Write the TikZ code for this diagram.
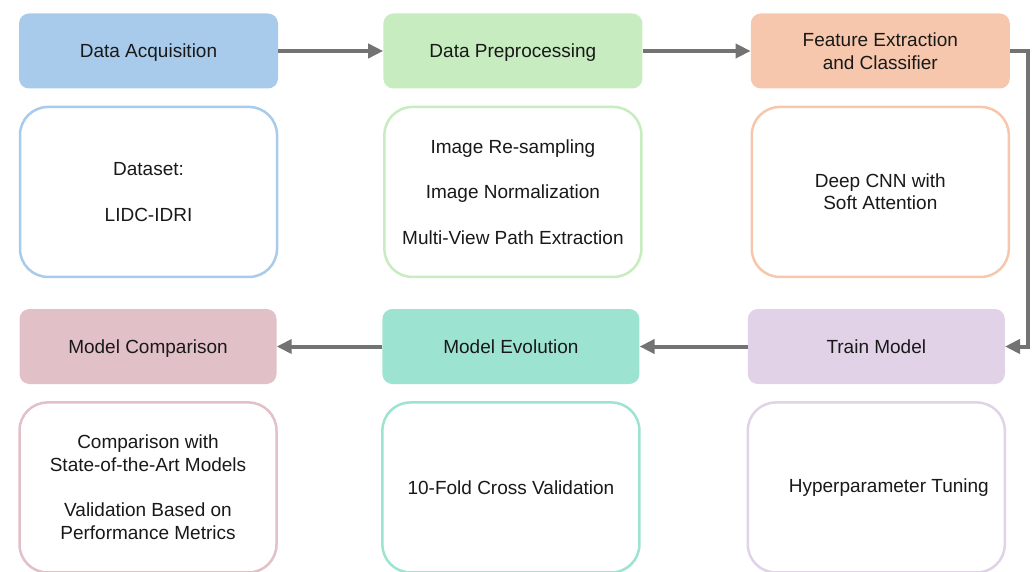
\documentclass[tikz,border=0pt]{standalone}
\usepackage{fontspec}
\setmainfont{Liberation Sans}
\usepackage{xcolor}
\usepackage{tikz}
\usetikzlibrary{positioning,arrows.meta}
\definecolor{acqblue}{HTML}{A9CBEB}
\definecolor{prepgreen}{HTML}{C6ECBF}
\definecolor{featorange}{HTML}{F6C7AC}
\definecolor{comppink}{HTML}{E2C0C7}
\definecolor{evolteal}{HTML}{9DE3D2}
\definecolor{trainlilac}{HTML}{E1D2E8}
\definecolor{flowgray}{HTML}{737373}

\begin{document}
\begin{tikzpicture}[x=1pt, y=-1pt, node distance=17pt,
	head/.style={rectangle, rounded corners=10pt, minimum width=259pt, minimum height=75pt, align=center, text depth=0pt, text=black!90, font=\fontsize{19}{22.5}\selectfont},
	body/.style={rectangle, draw, line width=2.5pt, fill=white, rounded corners=28pt, minimum width=257pt, minimum height=170pt, align=center, text=black!90, font=\fontsize{19}{22.5}\selectfont},
	flow/.style={-{Triangle[length=15pt, width=14pt]}, line width=4pt, draw=flowgray}]
	\useasboundingbox (0,0) rectangle (1033,572);
	
	\node[head, fill=acqblue] (acq) at (148.5,51) {Data Acquisition};
	\node[head, fill=prepgreen, right=105pt of acq] (prep) {Data Preprocessing};
	\node[head, fill=featorange, right=108pt of prep] (feat) {Feature Extraction\\and Classifier};
	
	\node[body, draw=acqblue, below=of acq] (acqbody) {Dataset:\\[23pt]LIDC-IDRI};
	\node[body, draw=prepgreen, below=of prep] (prepbody) {Image Re-sampling\\[23pt]Image Normalization\\[23pt]Multi-View Path Extraction};
	\node[body, draw=featorange, below=of feat] (featbody) {Deep CNN with\\Soft Attention};
	
	\node[head, fill=comppink, minimum width=257pt] (comp) at (148,346.5) {Model Comparison};
	\node[head, fill=evolteal, minimum width=257pt, right=105.5pt of comp] (evol) {Model Evolution};
	\node[head, fill=trainlilac, minimum width=257pt, right=108pt of evol] (train) {Train Model};
	
	\node[body, draw=comppink, below=of comp] (compbody) {Comparison with\\State-of-the-Art Models\\[23pt]Validation Based on\\Performance Metrics};
	\node[body, draw=evolteal, below=of evol] (evolbody) {10-Fold Cross Validation};
	\node[body, draw=trainlilac, below=of train] (trainbody) {\hspace*{25pt}Hyperparameter Tuning};
	
	\draw[flow] (acq.east) -- (prep.west);
	\draw[flow] (prep.east) -- (feat.west);
	\draw[flow] (feat.east) -- ++(18pt,0) |- (train.east);
	\draw[flow] (train.west) -- (evol.east);
	\draw[flow] (evol.west) -- (comp.east);
\end{tikzpicture}
\end{document}
